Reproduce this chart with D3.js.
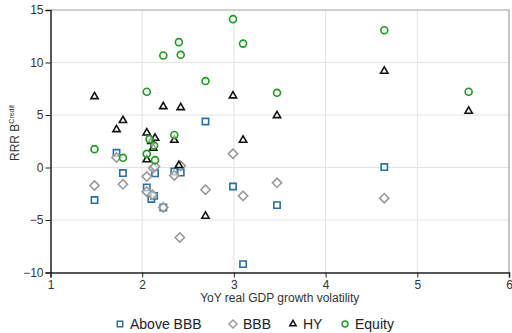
<!DOCTYPE html>
<html>
<head>
<meta charset="utf-8">
<script src="https://cdn.jsdelivr.net/npm/d3@7"></script>
<style>
  body { margin: 0; background: #fff; }
  svg { display: block; font-family: "Liberation Sans", Arial, sans-serif; }
</style>
</head>
<body>
<div id="chart"></div>
<script>
// series values: [volatility, RRR]
const aboveBBB = [[1.48,-3.1],[1.72,1.4],[1.79,-0.53],[2.05,-1.9],[2.10,-3.0],[2.13,-2.7],[2.14,-0.55],
  [2.23,-3.81],[2.35,-0.38],[2.42,-0.48],[2.69,4.38],[2.99,-1.81],[3.10,-9.2],[3.47,-3.58],[4.64,0.04]];
const bbb = [[1.48,-1.71],[1.72,0.95],[1.79,-1.6],[2.05,-0.86],[2.05,-2.3],[2.11,-2.6],[2.12,-0.05],[2.14,0.1],
  [2.23,-3.8],[2.35,-0.75],[2.41,-6.67],[2.42,0.16],[2.69,-2.12],[2.99,1.31],[3.10,-2.70],[3.47,-1.46],[4.64,-2.92]];
const hy = [[1.48,6.76],[1.72,3.62],[1.79,4.48],[2.05,3.3],[2.05,0.75],[2.10,2.5],[2.12,1.85],[2.14,2.8],
  [2.23,5.81],[2.35,2.6],[2.40,0.2],[2.42,5.71],[2.69,-4.63],[2.99,6.83],[3.10,2.61],[3.47,4.95],[4.64,9.18],[5.56,5.37]];
const equity = [[1.48,1.75],[1.79,0.92],[2.05,7.21],[2.05,1.3],[2.08,2.7],[2.13,2.1],[2.14,0.7],[2.23,10.67],
  [2.35,3.1],[2.40,11.94],[2.42,10.73],[2.69,8.23],[2.99,14.13],[3.10,11.8],[3.47,7.11],[4.64,13.08],[5.56,7.21]];
const xTicks = [1, 2, 3, 4, 5, 6];
const yTicks = [-10, -5, 0, 5, 10, 15];
const seriesNames = ['Above BBB', 'BBB', 'HY', 'Equity'];

const width = 512, height = 333;
const margin = { top: 10, right: 3, bottom: 60.5, left: 50.5 };

const x = d3.scaleLinear([1, 6], [margin.left, width - margin.right]);
const y = d3.scaleLinear([-10, 15], [height - margin.bottom, margin.top]);

const svg = d3.select('#chart').append('svg')
  .attr('width', width).attr('height', height);

// grid
svg.append('g').selectAll('line').data(xTicks.slice(1, -1)).join('line')
  .attr('x1', d => x(d)).attr('x2', d => x(d))
  .attr('y1', y(15)).attr('y2', y(-10))
  .attr('stroke', '#e3e3e3').attr('stroke-width', 1);
svg.append('g').selectAll('line').data(yTicks.slice(1, -1)).join('line')
  .attr('x1', x(1)).attr('x2', x(6))
  .attr('y1', d => y(d)).attr('y2', d => y(d))
  .attr('stroke', '#e3e3e3').attr('stroke-width', 1);

// top/right frame
svg.append('path')
  .attr('d', `M${x(1)},${y(15)}H${x(6)}V${y(-10)}`)
  .attr('fill', 'none').attr('stroke', '#a0a0a0').attr('stroke-width', 1.2);

// axes
const xAxis = svg.append('g').attr('transform', `translate(0,${y(-10)})`)
  .call(d3.axisBottom(x).tickValues(xTicks).tickFormat(d3.format('d'))
    .tickSizeOuter(0).tickSize(5).tickPadding(3));
const yAxis = svg.append('g').attr('transform', `translate(${x(1)},0)`)
  .call(d3.axisLeft(y).tickValues(yTicks).tickFormat(d3.format('d'))
    .tickSizeOuter(0).tickSize(5).tickPadding(2));
[xAxis, yAxis].forEach(g => {
  g.select('.domain').attr('stroke', '#222').attr('stroke-width', 1.5);
  g.selectAll('.tick line').attr('stroke', '#222');
  g.selectAll('.tick text').attr('fill', '#333').style('font-size', '12px')
    .style('font-family', '"Liberation Sans", Arial, sans-serif');
});

// axis titles
svg.append('text')
  .attr('x', (x(1) + x(6)) / 2).attr('y', 302)
  .attr('text-anchor', 'middle').attr('fill', '#333').style('font-size', '12px')
  .text('YoY real GDP growth volatility');
const yl = svg.append('text')
  .attr('transform', `translate(19,133) rotate(-90)`)
  .attr('text-anchor', 'middle').attr('fill', '#333').style('font-size', '12px');
yl.append('tspan').text('RRR B');
yl.append('tspan').attr('dy', -5).style('font-size', '7px').text('Credit');

// marker shapes
const styles = {
  'Above BBB': { sym: d3.symbolSquare, size: 40, stroke: '#2a6fa8' },
  'BBB': { sym: d3.symbolDiamond2, size: 55, stroke: '#9a9a9a' },
  'HY': { sym: d3.symbolTriangle2, size: 38, stroke: '#111' },
  'Equity': { sym: d3.symbolCircle, size: 38, stroke: '#1e9a1e' }
};
const series = [aboveBBB, bbb, hy, equity];

series.forEach((data, i) => {
  const s = styles[seriesNames[i]];
  svg.append('g').selectAll('path').data(data).join('path')
    .attr('transform', d => `translate(${x(d[0])},${y(d[1])})`)
    .attr('d', d3.symbol(s.sym, s.size))
    .attr('fill', 'white').attr('fill-opacity', 0.6)
    .attr('stroke', s.stroke).attr('stroke-width', 1.6);
});

// legend
const legendX = [120, 233, 293, 345];
const lg = svg.append('g').attr('transform', 'translate(0,324)');
seriesNames.forEach((name, i) => {
  const s = styles[name];
  lg.append('path')
    .attr('transform', `translate(${legendX[i]},0)`)
    .attr('d', d3.symbol(s.sym, s.size * 0.75))
    .attr('fill', 'white').attr('stroke', s.stroke).attr('stroke-width', 1.5);
  lg.append('text')
    .attr('x', legendX[i] + 10).attr('y', 0).attr('dy', '0.36em')
    .attr('fill', '#222').style('font-size', '14px')
    .text(name);
});
</script>
</body>
</html>
